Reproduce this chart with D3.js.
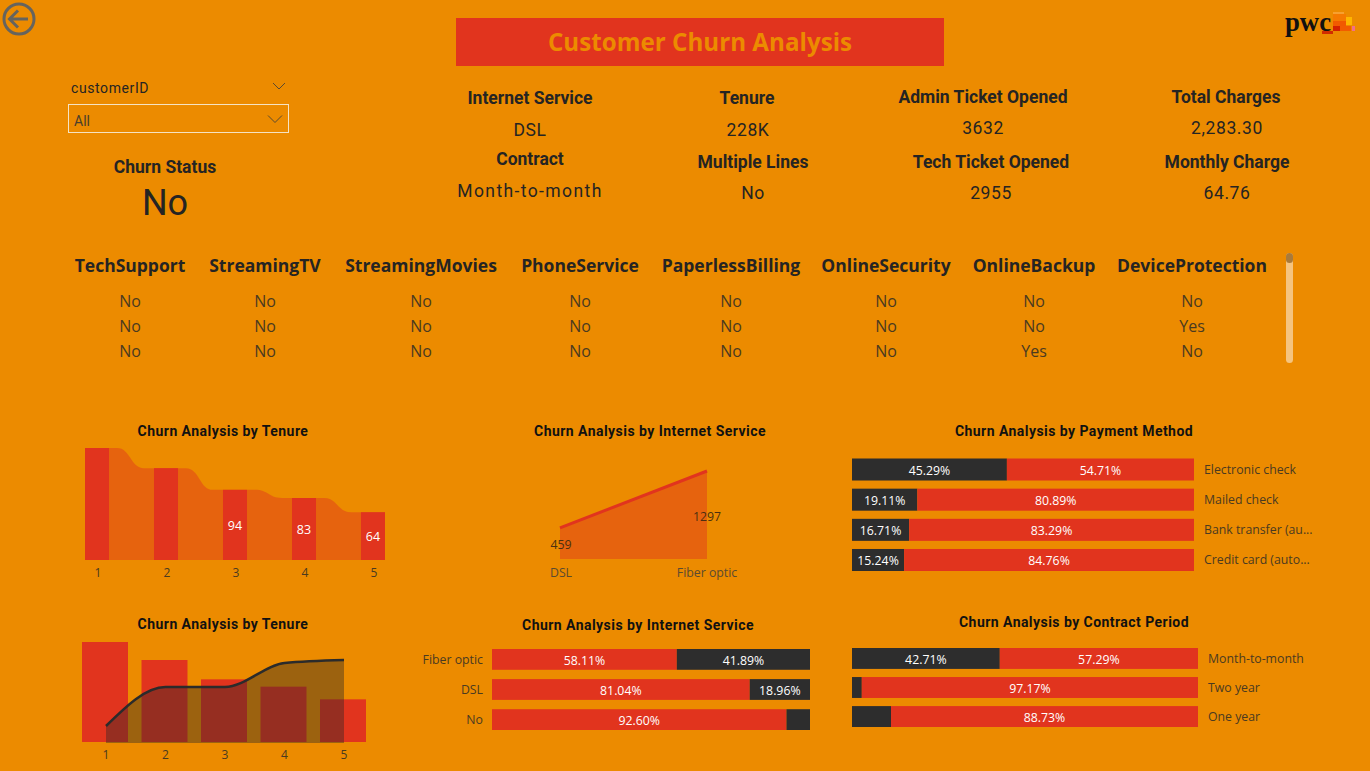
<!DOCTYPE html>
<html>
<head>
<meta charset="utf-8">
<script src="https://cdn.jsdelivr.net/npm/d3@7"></script>
<style>
    html, body { margin: 0; padding: 0; background: #EC8B00; overflow: hidden; }
    svg { display: block; }
</style>
</head>
<body>
<svg id="chart"></svg>
<script>
var tenureLabels = ["1", "2", "3", "4", "5"];
var tenureChurn = [150, 123, 94, 83, 64];
var tenureLine = [17, 56, 56, 80, 83];

var serviceLabels = ["DSL", "Fiber optic"];
var serviceChurn = [459, 1297];

var paymentLabels = ["Electronic check", "Mailed check", "Bank transfer (au...", "Credit card (auto..."];
var paymentYes = [45.29, 19.11, 16.71, 15.24];
var paymentNo = [54.71, 80.89, 83.29, 84.76];
var paymentShowYes = [true, true, true, true];

var internetLabels = ["Fiber optic", "DSL", "No"];
var internetNo = [58.11, 81.04, 92.60];
var internetYes = [41.89, 18.96, 7.40];
var internetShowYes = [true, true, false];

var contractLabels = ["Month-to-month", "Two year", "One year"];
var contractYes = [42.71, 2.83, 11.27];
var contractNo = [57.29, 97.17, 88.73];
var contractShowYes = [true, false, false];

var tableColumns = ["TechSupport", "StreamingTV", "StreamingMovies", "PhoneService", "PaperlessBilling", "OnlineSecurity", "OnlineBackup", "DeviceProtection"];
var tableRow1 = ["No", "No", "No", "No", "No", "No", "No", "No"];
var tableRow2 = ["No", "No", "No", "No", "No", "No", "No", "Yes"];
var tableRow3 = ["No", "No", "No", "No", "No", "No", "Yes", "No"];
var tableCenters = [130, 265, 421, 580, 731, 886, 1034, 1192];

var RED = "#E1341E", DARK = "#2D2D2D", INK = "#252423", ORANGE = "#EC8B00";
var DIN = "Roboto, sans-serif", SEGOE = "'Open Sans', sans-serif";

var svg = d3.select("#chart").attr("width", 1370).attr("height", 771);
svg.append("rect").attr("width", 1370).attr("height", 771).attr("fill", ORANGE);

function label(txt, x, y, size, weight, family, color, anchor) {
    return svg.append("text")
        .attr("x", x).attr("y", y)
        .attr("dy", "0.35em")
        .attr("text-anchor", anchor || "middle")
        .attr("font-family", family)
        .attr("font-size", size)
        .attr("font-weight", weight)
        .attr("fill", color)
        .text(txt);
}

function chevron(cx, cy, w) {
    svg.append("path")
        .attr("d", "M" + (cx - w) + "," + (cy - w / 2) + "L" + cx + "," + (cy + w / 2) + "L" + (cx + w) + "," + (cy - w / 2))
        .attr("fill", "none").attr("stroke", "#5a4a30").attr("stroke-width", 1);
}

// back button
svg.append("circle").attr("cx", 19).attr("cy", 19).attr("r", 15)
    .attr("fill", "none").attr("stroke", "#66645E").attr("stroke-width", 3);
svg.append("path").attr("d", "M28,19H10M18,10.5L9.5,19L18,27.5")
    .attr("fill", "none").attr("stroke", "#66645E").attr("stroke-width", 3);

// title banner
svg.append("rect").attr("x", 456).attr("y", 18).attr("width", 488).attr("height", 48).attr("fill", RED);
label("Customer Churn Analysis", 700, 43, 24.2, 700, SEGOE, ORANGE);

// logo
svg.append("text").attr("x", 1285).attr("y", 31)
    .attr("font-family", "'Liberation Serif', serif").attr("font-size", 27).attr("font-weight", 700)
    .attr("fill", "#111").attr("textLength", 46).attr("lengthAdjust", "spacingAndGlyphs").text("pwc");
[[1322, 31, 11, 3, "#D12B00"], [1333, 12, 11, 2, "#F7A030"], [1333, 14, 13, 7, "#F57A00"], [1333, 21, 13, 5, "#F15A00"],
 [1333, 26, 7, 5, "#D42000"], [1346, 17, 6, 8, "#FFB600"], [1340, 26, 11, 5, "#F25C00"], [1352, 26, 3, 5, "#F0708A"]].forEach(function(r) {
    svg.append("rect").attr("x", r[0]).attr("y", r[1]).attr("width", r[2]).attr("height", r[3]).attr("fill", r[4]);
});

// slicer
label("customerID", 71, 88, 14, 400, DIN, INK, "start").attr("letter-spacing", 0.6);
chevron(279, 86, 6);
svg.append("rect").attr("x", 68.5).attr("y", 104.5).attr("width", 220).attr("height", 28)
    .attr("fill", "none").attr("stroke", "#F5E3C4").attr("stroke-width", 1);
label("All", 74, 121, 14, 400, DIN, "#4a3f2c", "start");
chevron(275, 119, 7);

// cards
label("Churn Status", 165, 167, 17.5, 700, DIN, INK);
label("No", 165, 202, 36, 400, DIN, INK);

var cardHeads = [["Internet Service", 530, 98], ["Tenure", 747, 98], ["Admin Ticket Opened", 983, 97], ["Total Charges", 1226, 97],
    ["Contract", 530, 159], ["Multiple Lines", 753, 162], ["Tech Ticket Opened", 991, 162], ["Monthly Charge", 1227, 162]];
var cardValues = [["DSL", 530, 130], ["228K", 748, 130], ["3632", 983, 128], ["2,283.30", 1227, 128],
    ["Month-to-month", 530, 191], ["No", 753, 193], ["2955", 991, 193], ["64.76", 1227, 193]];
cardHeads.forEach(function(c) { label(c[0], c[1], c[2], 17.5, 700, DIN, INK); });
cardValues.forEach(function(c) {
    var t = label(c[0], c[1], c[2], 17.5, 400, DIN, INK).attr("letter-spacing", 0.6);
    if (c[0] == "Month-to-month") t.attr("letter-spacing", 1.4);
});

// table
tableColumns.forEach(function(name, i) {
    label(name, tableCenters[i], 266, 17.5, 700, SEGOE, INK);
    label(tableRow1[i], tableCenters[i], 301, 16, 400, SEGOE, "#4a3a20");
    label(tableRow2[i], tableCenters[i], 326, 16, 400, SEGOE, "#4a3a20");
    label(tableRow3[i], tableCenters[i], 351, 16, 400, SEGOE, "#4a3a20");
});
svg.append("rect").attr("x", 1286).attr("y", 253).attr("width", 7).attr("height", 110).attr("rx", 3.5).attr("fill", "#F5C47F");
svg.append("rect").attr("x", 1286).attr("y", 253).attr("width", 7).attr("height", 10).attr("rx", 3.5).attr("fill", "#A97A3A");

// chart titles
function chartTitle(txt, x, y) {
    label(txt, x, y, 14, 700, DIN, "#111").attr("letter-spacing", 0.45);
}
chartTitle("Churn Analysis by Tenure", 223, 431);
chartTitle("Churn Analysis by Internet Service", 650, 431);
chartTitle("Churn Analysis by Payment Method", 1074, 431);
chartTitle("Churn Analysis by Tenure", 223, 624);
chartTitle("Churn Analysis by Internet Service", 638, 625);
chartTitle("Churn Analysis by Contract Period", 1074, 622);

function tickLabels(labels, xf, y) {
    labels.forEach(function(t) {
        label(t, xf(t), y, 12, 400, SEGOE, "#4a3a20");
    });
}

// tenure: bars over a stepped area
function drawTenureTop() {
    var x = d3.scaleBand().domain(tenureLabels).range([85, 385]).paddingInner(0.652);
    var y = d3.scaleLinear().domain([0, 150]).range([560, 448]);
    var steps = [];
    tenureLabels.forEach(function(t, i) {
        var last = i == tenureLabels.length - 1;
        if (i > 0) steps.push({ x: x(t) - 10, v: tenureChurn[i] });
        steps.push({ x: x(t) + x.bandwidth() + (last ? 0 : 8), v: tenureChurn[i] });
    });
    steps.unshift({ x: x(tenureLabels[0]), v: tenureChurn[0] });
    var area = d3.area().curve(d3.curveBumpX)
        .x(function(d) { return d.x; })
        .y0(y(0))
        .y1(function(d) { return y(d.v); });
    svg.append("path").datum(steps).attr("d", area).attr("fill", RED).attr("fill-opacity", 0.45);
    svg.append("g").selectAll("rect").data(tenureChurn).enter().append("rect")
        .attr("x", function(d, i) { return x(tenureLabels[i]); })
        .attr("y", function(d) { return y(d); })
        .attr("width", x.bandwidth())
        .attr("height", function(d) { return y(0) - y(d); })
        .attr("fill", RED);
    tenureChurn.forEach(function(d, i) {
        if (d < 100) label(d, x(tenureLabels[i]) + x.bandwidth() / 2, (y(d) + y(0)) / 2 + 1, 12.5, 400, SEGOE, "#fff");
    });
    tickLabels(tenureLabels, function(t) { return x(t) + x.bandwidth() / 2 + 1; }, 573);
}

// tenure: bars with dark line and area
function drawTenureBottom() {
    var x = d3.scaleBand().domain(tenureLabels).range([82, 366]).paddingInner(0.227);
    var y = d3.scaleLinear().domain([0, 150]).range([742, 642]);
    var y2 = d3.scaleLinear().domain([0, 100]).range([743, 643]);
    var cx = function(t) { return x(t) + x.bandwidth() / 2 + 1; };
    svg.append("g").selectAll("rect").data(tenureChurn).enter().append("rect")
        .attr("x", function(d, i) { return x(tenureLabels[i]); })
        .attr("y", function(d) { return y(d); })
        .attr("width", x.bandwidth())
        .attr("height", function(d) { return y(0) - y(d); })
        .attr("fill", RED);
    var area = d3.area().curve(d3.curveMonotoneX)
        .x(function(d, i) { return cx(tenureLabels[i]); })
        .y0(y2(0))
        .y1(function(d) { return y2(d); });
    var line = d3.line().curve(d3.curveMonotoneX)
        .x(function(d, i) { return cx(tenureLabels[i]); })
        .y(function(d) { return y2(d); });
    svg.append("path").datum(tenureLine).attr("d", area).attr("fill", "#252525").attr("fill-opacity", 0.4);
    svg.append("path").datum(tenureLine).attr("d", line).attr("fill", "none").attr("stroke", "#2B2B2B").attr("stroke-width", 2.5);
    tickLabels(tenureLabels, cx, 755);
}

// internet service area
function drawServiceArea() {
    var x = d3.scalePoint().domain(serviceLabels).range([560, 707]);
    var y = d3.scaleLinear().domain([0, 1297]).range([559, 471]);
    var area = d3.area()
        .x(function(d, i) { return x(serviceLabels[i]); })
        .y0(y(0))
        .y1(function(d) { return y(d); });
    var line = d3.line()
        .x(function(d, i) { return x(serviceLabels[i]); })
        .y(function(d) { return y(d); });
    svg.append("path").datum(serviceChurn).attr("d", area).attr("fill", RED).attr("fill-opacity", 0.45);
    svg.append("path").datum(serviceChurn).attr("d", line).attr("fill", "none").attr("stroke", RED).attr("stroke-width", 3);
    label(serviceChurn[0], 561, 545, 12.3, 400, SEGOE, "#4a3010");
    label(serviceChurn[1], 707, 517, 12.3, 400, SEGOE, "#4a3010");
    label(serviceLabels[0], 561, 573, 12.3, 400, SEGOE, "#5a4a30");
    label(serviceLabels[1], 707, 573, 12.3, 400, SEGOE, "#5a4a30");
}

// 100% stacked bars; first/second hold the two parts left to right
function drawStacked(opt) {
    var x = d3.scaleLinear().domain([0, 100]).range([opt.x0, opt.x1]);
    var y = d3.scaleBand().domain(opt.labels).range([opt.y0, opt.y1]).paddingInner(opt.pad);
    var g = svg.append("g");
    opt.labels.forEach(function(name, i) {
        var a = opt.first[i], b = opt.second[i];
        g.append("rect").attr("x", x(0)).attr("y", y(name)).attr("width", x(a) - x(0)).attr("height", y.bandwidth()).attr("fill", opt.firstColor);
        g.append("rect").attr("x", x(a)).attr("y", y(name)).attr("width", x(100) - x(a)).attr("height", y.bandwidth()).attr("fill", opt.secondColor);
        var cy = y(name) + y.bandwidth() / 2;
        if (opt.showFirst[i]) label(a.toFixed(2) + "%", (x(0) + x(a)) / 2, cy + 1, 12.3, 400, SEGOE, "#fff");
        if (opt.showSecond[i]) label(b.toFixed(2) + "%", (x(a) + x(100)) / 2, cy + 1, 12.3, 400, SEGOE, "#fff");
        if (opt.side == "right") label(name, opt.x1 + 10, cy, 12.3, 400, SEGOE, "#4a3a20", "start");
        else label(name, opt.x0 - 9, cy, 12.3, 400, SEGOE, "#4a3a20", "end");
    });
}

function allTrue(a) { return a.map(function() { return true; }); }

drawTenureTop();
drawServiceArea();
drawTenureBottom();

drawStacked({ labels: paymentLabels, first: paymentYes, second: paymentNo, firstColor: DARK, secondColor: RED,
    showFirst: paymentShowYes, showSecond: allTrue(paymentNo), x0: 852, x1: 1194, y0: 458.5, y1: 571, pad: 0.27, side: "right" });
drawStacked({ labels: internetLabels, first: internetNo, second: internetYes, firstColor: RED, secondColor: DARK,
    showFirst: allTrue(internetNo), showSecond: internetShowYes, x0: 492, x1: 810, y0: 649, y1: 730, pad: 0.31, side: "left" });
drawStacked({ labels: contractLabels, first: contractYes, second: contractNo, firstColor: DARK, secondColor: RED,
    showFirst: contractShowYes, showSecond: allTrue(contractNo), x0: 852, x1: 1198, y0: 648, y1: 727, pad: 0.28, side: "right" });
</script>
</body>
</html>
